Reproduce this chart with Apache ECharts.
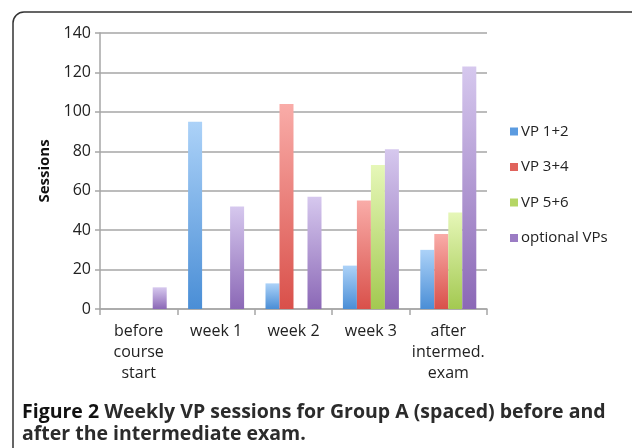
<!DOCTYPE html>
<html>
<head>
<meta charset="utf-8">
<script src="https://cdn.jsdelivr.net/npm/echarts@6/dist/echarts.min.js"></script>
<style>
  html, body { margin: 0; padding: 0; background: #fff; }
  #main { width: 632px; height: 448px; }
</style>
</head>
<body>
<div id="main"></div>
<script>
var categories = ['before\ncourse\nstart', 'week 1', 'week 2', 'week 3', 'after\nintermed.\nexam'];
var vp12 = [0, 95, 13, 22, 30];
var vp34 = [0, 0, 104, 55, 38];
var vp56 = [0, 0, 0, 73, 49];
var optional = [11, 52, 57, 81, 123];
var yTicks = [0, 20, 40, 60, 80, 100, 120, 140];

var dom = document.getElementById('main');
var myChart = echarts.init(dom);

// excel style bars: light on top, darker at the bottom
function grad(top, bottom) {
    return new echarts.graphic.LinearGradient(0, 0, 0, 1, [
        { offset: 0, color: top },
        { offset: 1, color: bottom }
    ]);
}

var font = '"Open Sans", sans-serif';

var option = {
    animation: false,
    textStyle: { fontFamily: font },
    title: {
        left: 17,
        top: 396,
        text: '{b|Figure 2} Weekly VP sessions for Group A (spaced) before and\nafter the intermediate exam.',
        textStyle: {
            fontFamily: font,
            fontSize: 19.5,
            fontWeight: 'bold',
            color: '#2b2b2b',
            lineHeight: 22,
            rich: {
                b: { fontFamily: font, fontSize: 19.5, fontWeight: 'bold', color: '#111', lineHeight: 22 }
            }
        }
    },
    graphic: [{
        type: 'rect',
        shape: { x: 13, y: 12, width: 700, height: 500, r: 11 },
        style: { fill: 'none', stroke: '#333', lineWidth: 1.5 },
        silent: true
    }],
    legend: {
        orient: 'vertical',
        left: 505,
        top: 119,
        itemWidth: 8,
        itemHeight: 8,
        itemGap: 20.5,
        icon: 'rect',
        textStyle: { fontFamily: font, fontSize: 15, color: '#222', padding: [0, 0, 0, -2] },
        data: ['VP 1+2', 'VP 3+4', 'VP 5+6', 'optional VPs']
    },
    grid: {
        left: 100,
        right: 145,
        top: 33,
        bottom: 139
    },
    xAxis: {
        type: 'category',
        data: categories,
        axisLine: { lineStyle: { color: '#a6a6a6', width: 1.5 } },
        axisTick: { show: true, length: 6, lineStyle: { color: '#a6a6a6', width: 1.5 } },
        axisLabel: {
            interval: 0,
            margin: 12,
            fontFamily: font,
            fontSize: 16,
            lineHeight: 21,
            color: '#222'
        }
    },
    yAxis: {
        type: 'value',
        min: yTicks[0],
        max: yTicks[yTicks.length - 1],
        interval: 20,
        name: 'Sessions',
        nameLocation: 'middle',
        nameGap: 47,
        nameTextStyle: { fontFamily: font, fontSize: 15, fontWeight: 'bold', color: '#111' },
        axisLine: { show: true, lineStyle: { color: '#a6a6a6', width: 1.5 } },
        axisTick: { show: true, length: 5, lineStyle: { color: '#a6a6a6', width: 1.5 } },
        axisLabel: { fontFamily: font, fontSize: 16, color: '#222', margin: 9 },
        splitLine: { lineStyle: { color: '#a6a6a6', width: 1.5 } }
    },
    series: [
        {
            name: 'VP 1+2', type: 'bar', data: vp12, barWidth: 14, barGap: '0%',
            itemStyle: { color: grad('#acd2f8', '#4a8ed6') }
        },
        {
            name: 'VP 3+4', type: 'bar', data: vp34, barWidth: 14, barGap: '0%',
            itemStyle: { color: grad('#f9aca8', '#d9504a') }
        },
        {
            name: 'VP 5+6', type: 'bar', data: vp56, barWidth: 14, barGap: '0%',
            itemStyle: { color: grad('#e6f7b8', '#a3c951') }
        },
        {
            name: 'optional VPs', type: 'bar', data: optional, barWidth: 14, barGap: '0%',
            itemStyle: { color: grad('#d6c8ee', '#8b68b6') }
        }
    ]
};
// legend swatches use the darker solid tone
option.legend.data = option.legend.data.map(function (n, i) {
    var c = ['#5b9be0', '#e0635c', '#b5d665', '#9b7cc4'][i];
    return { name: n, itemStyle: { color: c } };
});
myChart.setOption(option);
</script>
</body>
</html>
